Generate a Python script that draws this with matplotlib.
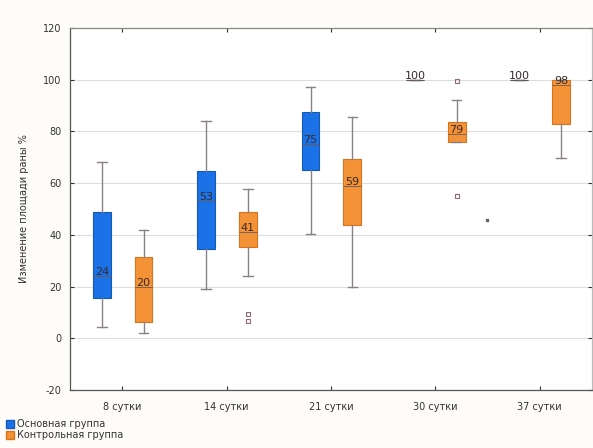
import matplotlib
matplotlib.use("Agg")
import matplotlib.pyplot as plt
from matplotlib.patches import Patch

categories = ["8 сутки", "14 сутки", "21 сутки", "30 сутки", "37 сутки"]

# Основная группа: whisker low, Q1, median, Q3, whisker high
main_wlo = [4.3, 19, 40.5, 100, 100]
main_q1 = [15.5, 34.4, 65, 100, 100]
main_med = [24, 53, 75, 100, 100]
main_q3 = [48.7, 64.6, 87.5, 100, 100]
main_whi = [68, 84, 97, 100, 100]
main_fliers = [[], [], [], [], []]

# Контрольная группа
ctrl_wlo = [1.9, 24, 19.8, 75.8, 69.6]
ctrl_q1 = [6.2, 35.2, 44, 75.8, 82.7]
ctrl_med = [20, 41, 59, 79, 98]
ctrl_q3 = [31.3, 49, 69.5, 83.5, 100]
ctrl_whi = [41.8, 57.6, 85.4, 92.3, 100]
ctrl_fliers = [[], [6.5, 9.3], [], [55, 99.4], []]

stray_x = [4.495]
stray_y = [45.6]

yticks = [-20, 0, 20, 40, 60, 80, 100, 120]
ylabel = "Изменение площади раны %"
legend_labels = ["Основная группа", "Контрольная группа"]

blue = "#1a72e6"
blue_edge = "#1559b8"
orange = "#f39236"
orange_edge = "#d9731c"

fig = plt.figure(figsize=(5.93, 4.48), dpi=100, facecolor="#fdfcf8")
ax = fig.add_axes([0.118, 0.1295, 0.880, 0.808])
ax.set_facecolor("white")

positions = list(range(1, len(categories) + 1))


def stats(wlo, q1, med, q3, whi, fl):
    return [dict(whislo=a, q1=b, med=c, q3=d, whishi=e, fliers=f)
            for a, b, c, d, e, f in zip(wlo, q1, med, q3, whi, fl)]


groups = [
    (stats(main_wlo, main_q1, main_med, main_q3, main_whi, main_fliers), -0.195, blue, blue_edge, main_med),
    (stats(ctrl_wlo, ctrl_q1, ctrl_med, ctrl_q3, ctrl_whi, ctrl_fliers), 0.205, orange, orange_edge, ctrl_med),
]

for st, off, fc, ec, meds in groups:
    pos = [p + off for p in positions]
    ax.bxp(st, positions=pos, widths=0.17, patch_artist=True, showfliers=True,
           capwidths=0.09,
           boxprops=dict(facecolor=fc, edgecolor=ec, linewidth=0.8),
           medianprops=dict(color="#6a5a50", linewidth=0.6),
           whiskerprops=dict(color="#8a8088", linewidth=1.0),
           capprops=dict(color="#8a8088", linewidth=1.0),
           flierprops=dict(marker="s", markersize=3.5, markerfacecolor="none",
                           markeredgecolor="#8a6a70", markeredgewidth=0.8),
           zorder=3)
    for p, m in zip(pos, meds):
        ax.text(p, m + 1.5, f"{m:g}", ha="center", va="center", fontsize=8,
                color="#3a2a2a", zorder=4)

ax.scatter(stray_x, stray_y, s=4, marker="s", color="#666666", zorder=3)

ax.set_xlim(0.5, 5.5)
ax.set_ylim(-20, 120)
ax.set_yticks(yticks)
ax.set_yticklabels([str(v) for v in yticks])
ax.set_xticks(positions)
ax.set_xticklabels(categories)
ax.tick_params(axis="both", labelsize=7, colors="#333333", direction="in",
               length=3, top=True, right=True, pad=6)
ax.tick_params(axis="x", pad=9)
ax.yaxis.grid(True, color="#dedede", linewidth=0.8)
ax.set_axisbelow(True)
for s in ax.spines.values():
    s.set_color("#555555")
    s.set_linewidth(0.9)
ax.spines["top"].set_color("#888888")
ax.spines["right"].set_color("#bbbbbb")

ax.set_ylabel(ylabel, fontsize=7, color="#333333", labelpad=10)

handles = [Patch(facecolor=blue, edgecolor=blue_edge),
           Patch(facecolor=orange, edgecolor=orange_edge)]
fig.legend(handles, legend_labels, loc="lower left", bbox_to_anchor=(0.0, 0.005),
           frameon=False, fontsize=7, handlelength=0.8, handleheight=0.9,
           handletextpad=0.3, labelspacing=0.05, borderaxespad=0.2,
           labelcolor="#333333")

fig.savefig("out.png", dpi=100, facecolor=fig.get_facecolor())
